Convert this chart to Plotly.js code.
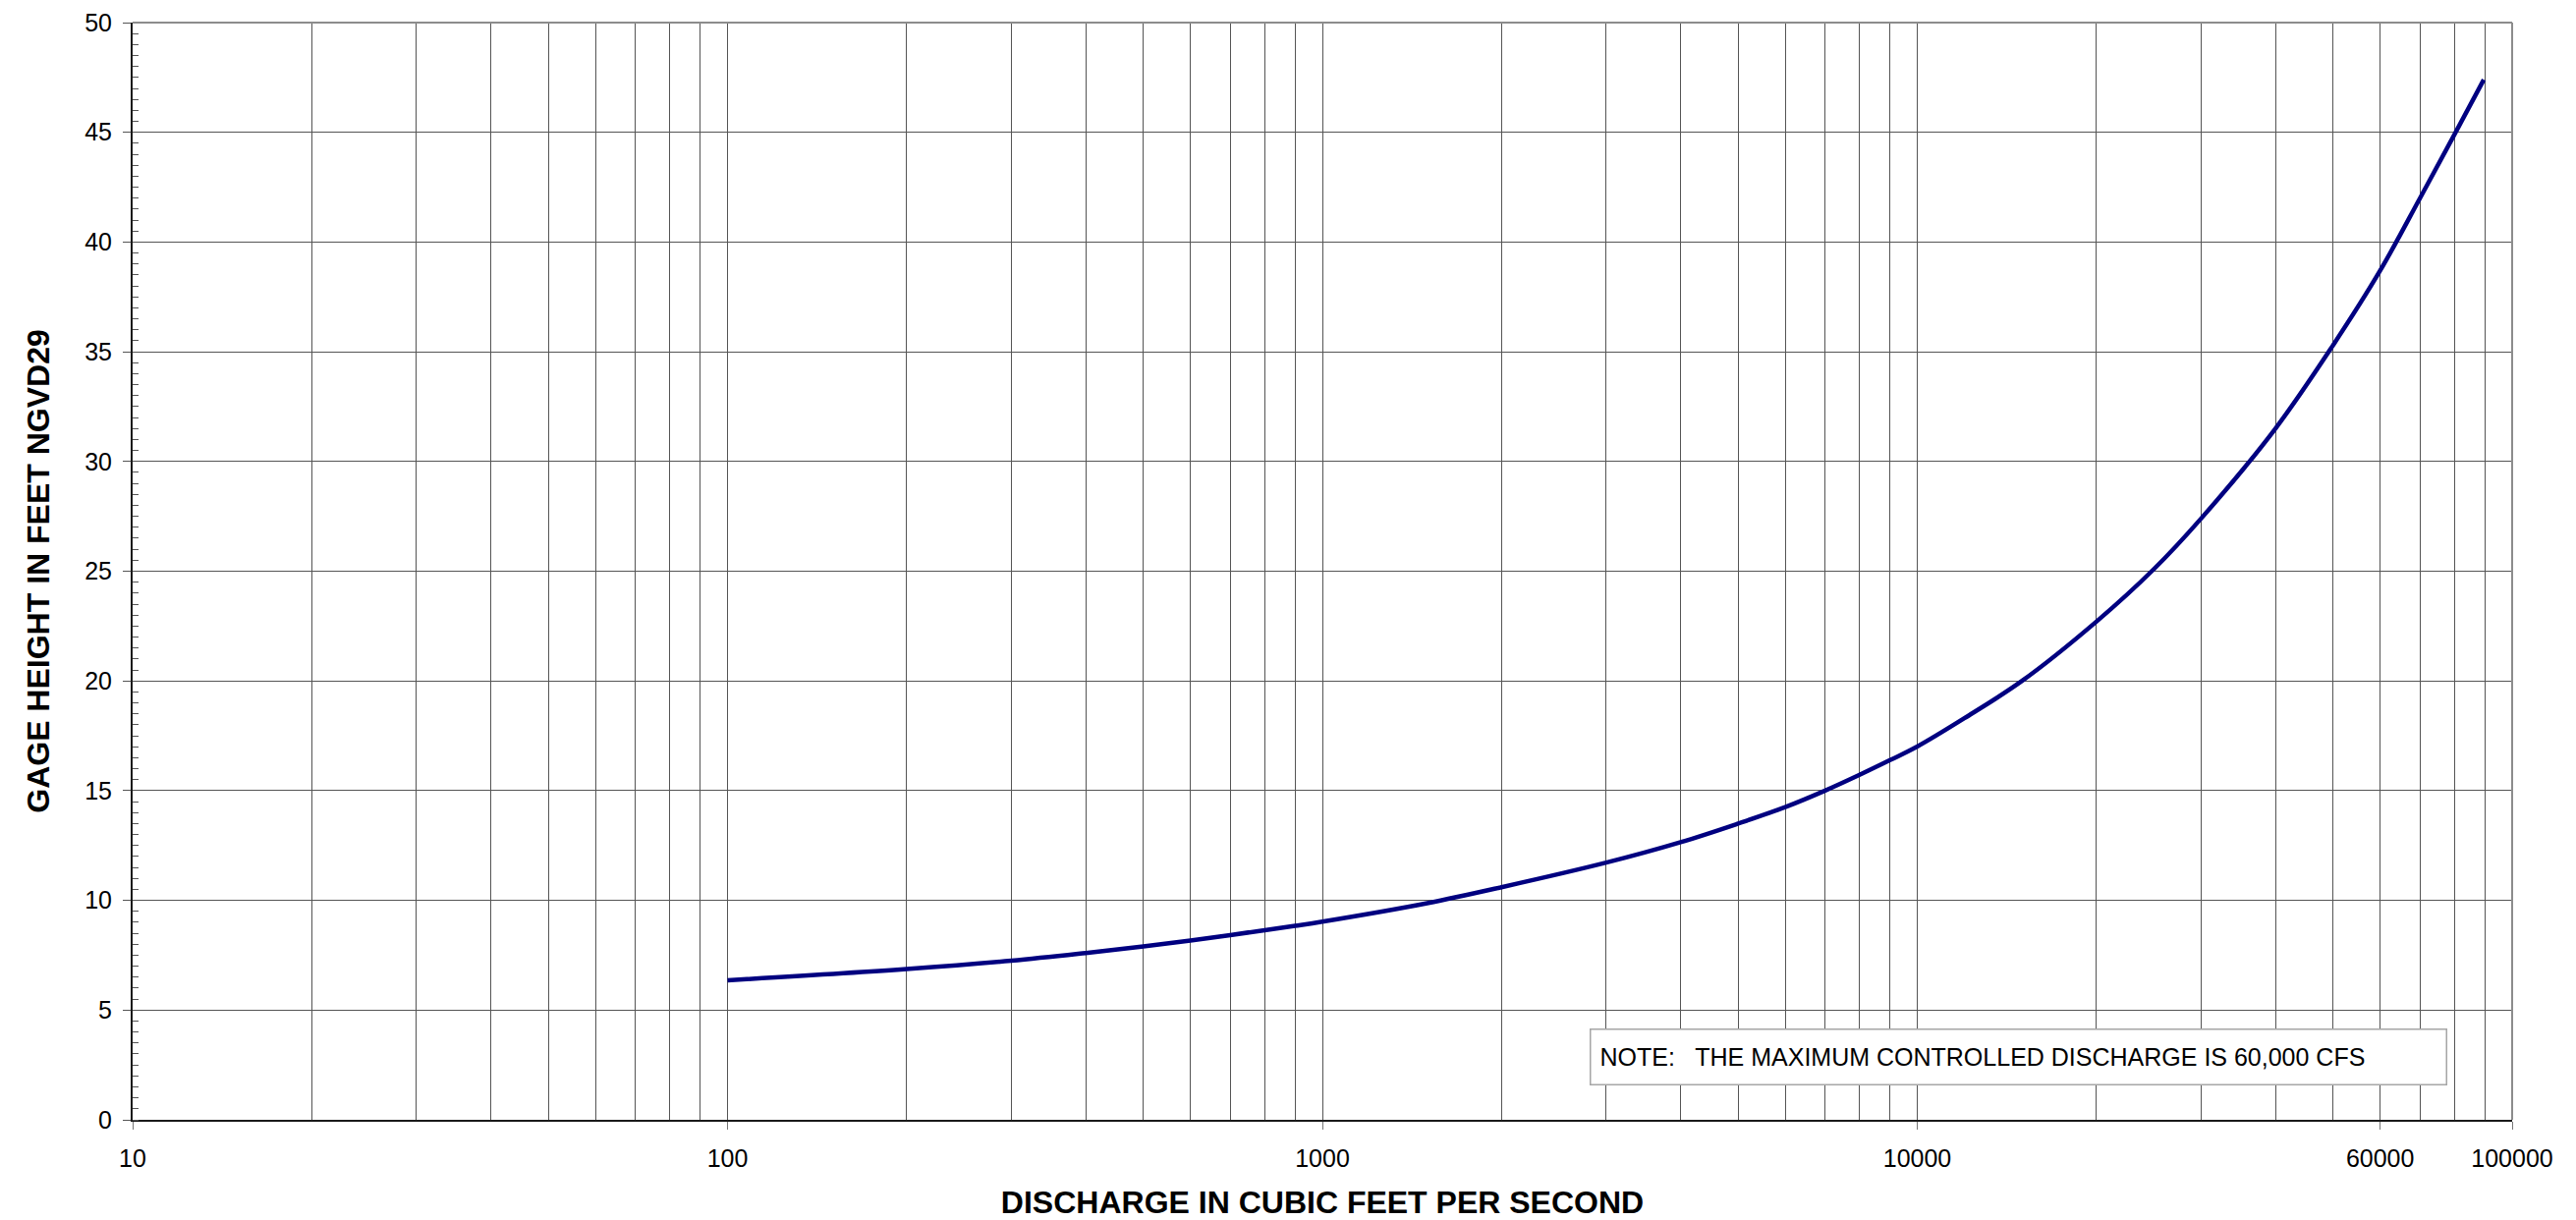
<!DOCTYPE html>
<html>
<head>
<meta charset="utf-8">
<script src="https://cdn.plot.ly/plotly-3.0.1.min.js"></script>
<style>
  html, body { margin: 0; padding: 0; background: #ffffff; }
  #chart { width: 2622px; height: 1242px; }
</style>
</head>
<body>
<div id="chart"></div>
<script>
// Rating curve: discharge (cfs) vs gage height (ft NGVD29)
const discharge = [100, 200, 300, 400, 500, 600, 700, 800, 900, 1000,
                   1500, 2000, 3000, 4000, 5000, 6000, 7000, 8000, 9000, 10000,
                   12000, 15000, 20000, 25000, 30000, 40000, 50000, 60000, 70000, 80000, 89600];
const gageHeight = [6.36, 6.87, 7.25, 7.6, 7.9, 8.17, 8.42, 8.64, 8.84, 9.03,
                    9.87, 10.6, 11.72, 12.65, 13.5, 14.25, 15.0, 15.72, 16.39, 17.01,
                    18.3, 20.0, 22.7, 25.1, 27.4, 31.5, 35.3, 38.7, 42.0, 44.9, 47.4];

const xTickVals = [10, 100, 1000, 10000, 60000, 100000];
const xTickText = ["10", "100", "1000", "10000", "60000", "100000"];
const noteText = "NOTE:   THE MAXIMUM CONTROLLED DISCHARGE IS 60,000 CFS";
const xTitle = "DISCHARGE IN CUBIC FEET PER SECOND";
const yTitle = "GAGE HEIGHT IN FEET NGVD29";

// grid lines at every 1..9 multiple of each decade
const xGrid = [];
for (let p = 1; p <= 4; p++) {
  for (let m = 1; m <= 9; m++) xGrid.push(m * Math.pow(10, p));
}
xGrid.push(100000);

const trace = {
  x: discharge,
  y: gageHeight,
  type: 'scatter',
  mode: 'lines',
  line: { color: '#000080', width: 4.5, shape: 'spline', smoothing: 1 },
  hoverinfo: 'x+y',
  showlegend: false
};

const tickFont = { family: 'Liberation Sans, Arial, sans-serif', size: 25, color: '#000000' };
const titleFont = { family: 'Liberation Sans, Arial, sans-serif', size: 32, color: '#000000', weight: 'bold' };

const layout = {
  width: 2622,
  height: 1242,
  paper_bgcolor: '#ffffff',
  plot_bgcolor: '#ffffff',
  margin: { l: 135, r: 65, t: 23, b: 102 },
  showlegend: false,
  xaxis: {
    type: 'log',
    range: [1, 5],
    tickmode: 'array',
    tickvals: xTickVals,
    ticktext: xTickText,
    ticks: 'outside',
    ticklen: 8,
    tickcolor: '#777777',
    tickwidth: 1,
    tickfont: tickFont,
    ticklabelstandoff: 8,
    showgrid: true,
    gridcolor: '#555555',
    gridwidth: 1,
    showline: true,
    linecolor: '#1a1a1a',
    linewidth: 2,
    zeroline: false,
    minor: {
      tickmode: 'array',
      tickvals: xGrid,
      showgrid: true,
      gridcolor: '#555555',
      gridwidth: 1,
      ticks: ''
    },
    title: { text: xTitle, font: titleFont, standoff: 22 },
    automargin: false
  },
  yaxis: {
    range: [0, 50],
    dtick: 5,
    tick0: 0,
    ticks: 'outside',
    ticklen: 8,
    tickcolor: '#555555',
    tickwidth: 1,
    tickfont: tickFont,
    ticklabelstandoff: 6,
    showgrid: true,
    gridcolor: '#555555',
    gridwidth: 1,
    showline: true,
    linecolor: '#1a1a1a',
    linewidth: 2,
    zeroline: false,
    minor: {
      dtick: 0.5,
      ticks: 'inside',
      ticklen: 6,
      tickcolor: '#555555',
      tickwidth: 1,
      showgrid: false
    },
    title: { text: yTitle, font: titleFont, standoff: 26 },
    automargin: false
  },
  shapes: [
    { type: 'line', xref: 'paper', yref: 'paper', x0: 0, x1: 1, y0: 1, y1: 1,
      line: { color: '#8c8c8c', width: 2 } },
    { type: 'line', xref: 'paper', yref: 'paper', x0: 1, x1: 1, y0: 0, y1: 1,
      line: { color: '#8c8c8c', width: 2 } }
  ],
  annotations: [
    {
      text: noteText,
      xref: 'paper', yref: 'paper',
      x: 0.7927, y: 0.0577,
      xanchor: 'center', yanchor: 'middle',
      showarrow: false,
      align: 'left',
      width: 852,
      height: 37,
      valign: 'middle',
      bgcolor: '#ffffff',
      bordercolor: '#a6a6a6',
      borderwidth: 1.5,
      borderpad: 9,
      font: { family: 'Liberation Sans, Arial, sans-serif', size: 25, color: '#000000' }
    }
  ]
};

Plotly.newPlot('chart', [trace], layout, { staticPlot: true, displayModeBar: false });
</script>
</body>
</html>
